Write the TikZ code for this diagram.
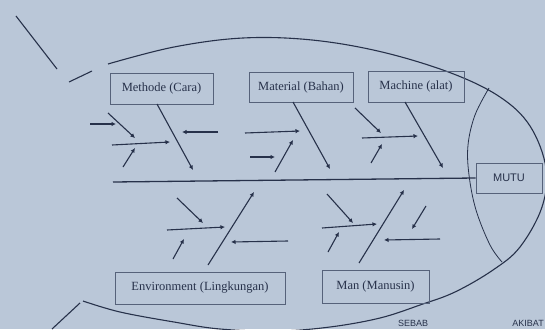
\documentclass[tikz,border=0pt]{standalone}
\usepackage{fontspec}
\setmainfont{Liberation Serif}
\setsansfont{Liberation Sans}
\usetikzlibrary{arrows.meta}
\definecolor{bg}{HTML}{BAC7D8}
\definecolor{ink}{HTML}{27314A}
\definecolor{boxline}{HTML}{56627A}
\begin{document}
\begin{tikzpicture}[x=1pt,y=-1pt,
  outline/.style={draw=ink, line width=1.1pt},
  spine/.style={draw=ink, line width=1.3pt},
  bone/.style={draw=ink, line width=1.1pt, -{Latex[length=4.5pt,width=4.5pt]}},
  causebox/.style={draw=boxline, line width=0.8pt, text=ink, inner sep=0pt,
     font=\fontsize{12.5}{14}\selectfont},
  tag/.style={text=ink, inner sep=0pt, font=\sffamily\fontsize{9}{10}\selectfont}]
\useasboundingbox (0,0) rectangle (545,329);
\clip (0,0) rectangle (545,329);
\fill[bg] (0,0) rectangle (545,329);

% fish outline
\draw[outline] (16,16) -- (57,69);
\draw[outline] (80,303) -- (52,329);
\draw[outline] (69,82) -- (92,71);
\draw[outline] plot[smooth, tension=0.6] coordinates {(108,64) (174,47) (243,38) (312,40) (382,52) (451,73) (500,97) (530,126) (546,168) (542,207) (520,247) (493,270) (455,292) (420,305) (380,318) (330,327) (278,331) (220,329) (174,322) (120,312) (83,301)};
\draw[draw=ink, line width=0.8pt] plot[smooth, tension=0.6] coordinates {(489,88) (475,115) (468,145) (469,175) (476,210) (490,245) (502,262)};

% boxes
\node[causebox, minimum width=103pt, minimum height=31pt] (meth) at (161.5,88.5) {Methode (Cara)};
\node[causebox, minimum width=104pt, minimum height=30pt] (mat) at (301,87) {Material (Bahan)};
\node[causebox, minimum width=96pt, minimum height=31pt] (mach) at (416,86.5) {Machine (alat)};
\node[causebox, minimum width=170pt, minimum height=32pt] (env) at (200,288) {Environment (Lingkungan)};
\node[causebox, minimum width=107pt, minimum height=33pt] (man) at (375.5,286.5) {Man (Manusin)};
\node[causebox, minimum width=66pt, minimum height=30pt, font=\sffamily\fontsize{11}{12}\selectfont] (mutu) at (509,178) {MUTU};

% spine
\coordinate (tail) at (113,182);
\draw[spine] (tail) -- (mutu.west);

% bones
\foreach \n/\sx/\sy/\ex/\ey in {
  m0/157/104/193/170, m1/90/124/116/124, m2/108/113/135/138, m3/112/145/170/142, m4/123/167/135/148, m5/218/132/182/132,
  b0/293/102/330/169, b1/245/133/300/131, b2/250/157/275/157, b3/275/172/293/140,
  c0/405/102/443/168, c1/355/108/381/133, c2/362/138/418/136, c3/371/163/382/144,
  d0/208/265/254/192, d1/177/198/203/223, d2/167/230/225/227, d3/173/259/184/239, d4/288/241/231/242,
  e0/359/263/404/190, e1/327/194/353/223, e2/322/228/377/224, e3/328/252/339/232, e4/426/206/412/229, e5/440/239/384/240}
{
  \coordinate (\n-s) at (\sx,\sy);
  \coordinate (\n-e) at (\ex,\ey);
  \draw[bone] (\n-s) -- (\n-e);
}

% labels
\node[tag] (sebab) at (413,323) {SEBAB};
\node[tag, anchor=east] (akibat) at (544,323) {AKIBAT};
\end{tikzpicture}
\end{document}
